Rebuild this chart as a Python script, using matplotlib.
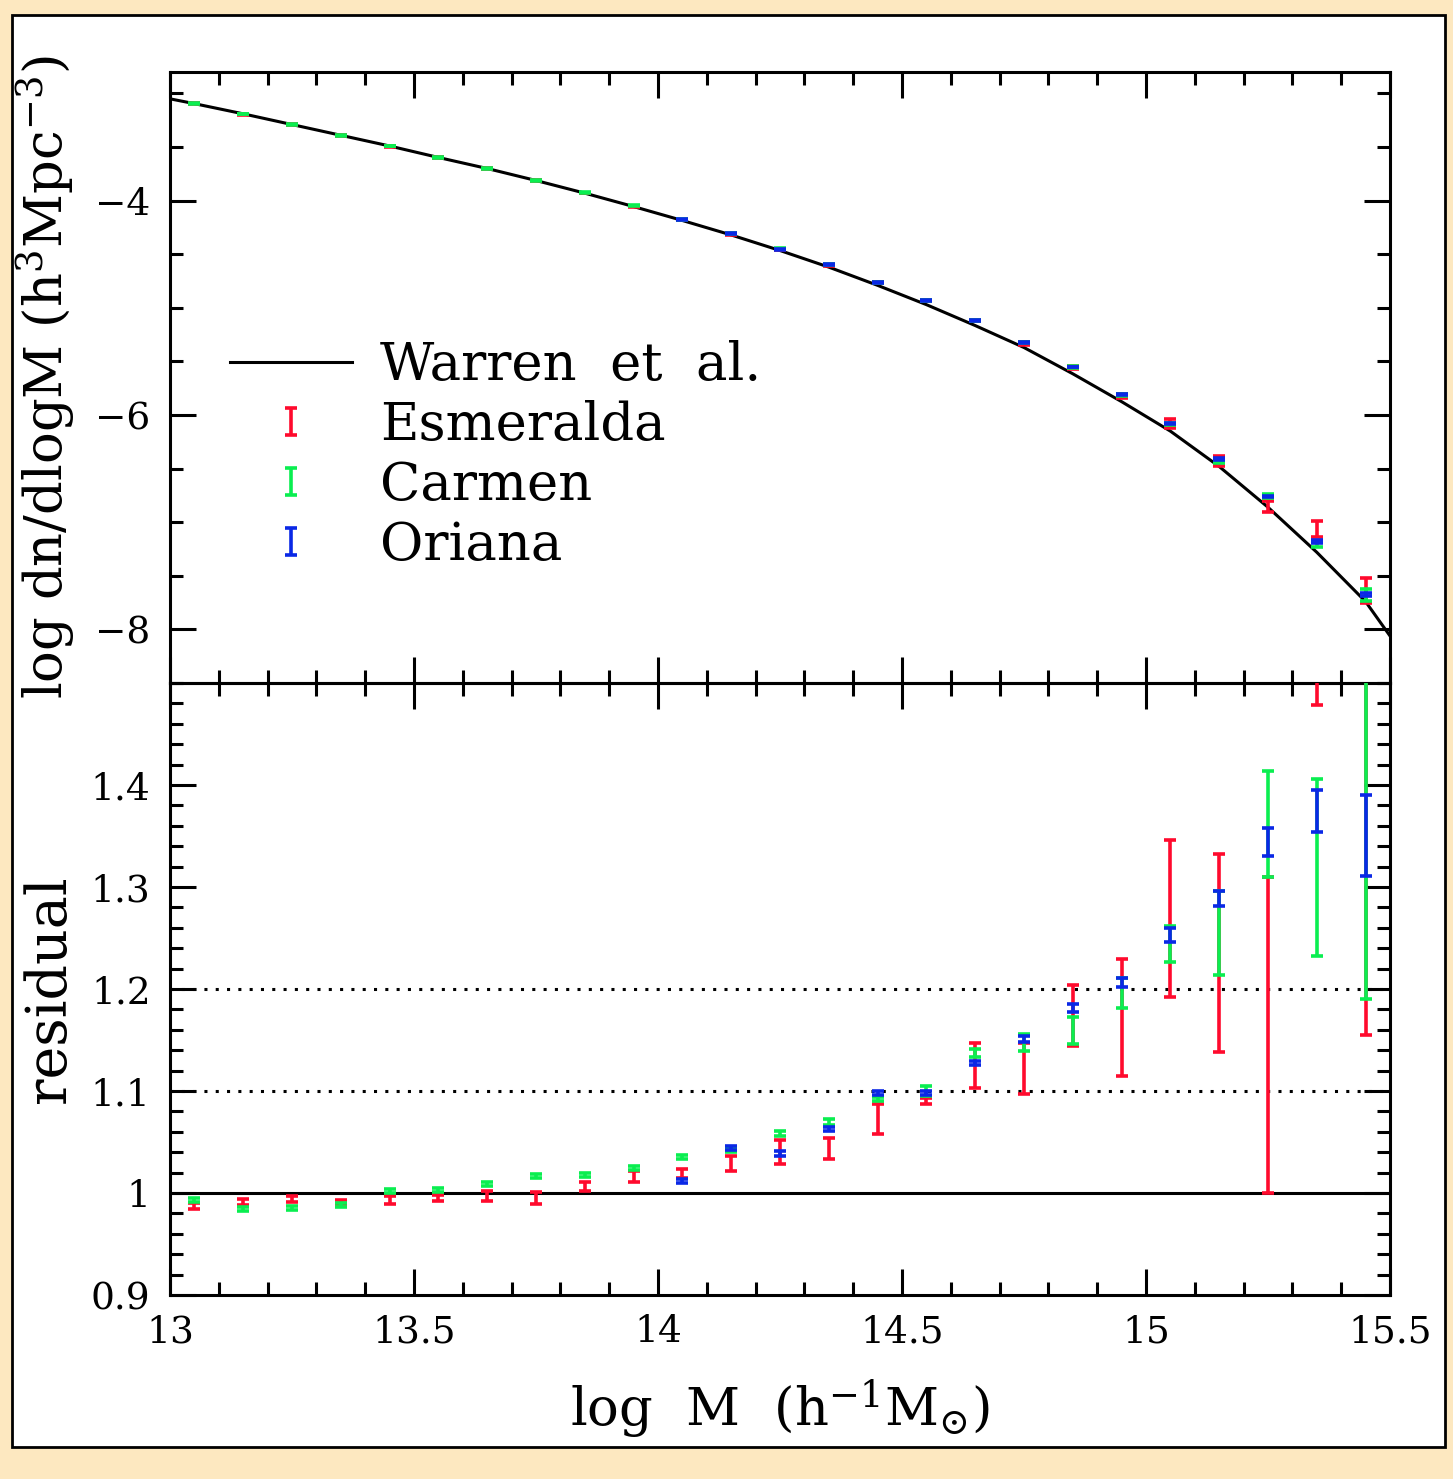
import numpy as np
import matplotlib
matplotlib.use("Agg", force=True)
import matplotlib.pyplot as plt
from matplotlib.ticker import MultipleLocator, FixedLocator
from matplotlib.patches import Rectangle
from matplotlib.container import ErrorbarContainer
from matplotlib.legend_handler import HandlerErrorbar

plt.rcParams['font.family'] = ['DejaVu Serif']
plt.rcParams['mathtext.fontset'] = 'dejavuserif'
plt.rcParams['axes.unicode_minus'] = True

# ---- data ----
mass_bins = [13.05, 13.15, 13.25, 13.35, 13.45, 13.55, 13.65, 13.75, 13.85, 13.95,
             14.05, 14.15, 14.25, 14.35, 14.45, 14.55, 14.65, 14.75, 14.85, 14.95,
             15.05, 15.15, 15.25, 15.35, 15.45]
oriana_bins = mass_bins[10:]

# Warren et al. fit
warren_x = [13.0, 13.05, 13.15, 13.25, 13.35, 13.45, 13.55, 13.65, 13.75, 13.85, 13.95,
            14.05, 14.15, 14.25, 14.35, 14.45, 14.55, 14.65, 14.75, 14.85, 14.95,
            15.05, 15.15, 15.25, 15.35, 15.45, 15.5]
warren_y = [-3.05, -3.095, -3.19, -3.29, -3.39, -3.49, -3.597, -3.70, -3.812, -3.93, -4.055,
            -4.185, -4.32, -4.465, -4.62, -4.79, -4.97, -5.165, -5.37, -5.615, -5.875,
            -6.15, -6.48, -6.86, -7.28, -7.74, -8.06]

# mass function, log dn/dlogM
esm_mf = [-3.097, -3.193, -3.292, -3.392, -3.493, -3.598, -3.702, -3.815, -3.928, -4.053,
          -4.180, -4.312, -4.457, -4.604, -4.765, -4.935, -5.118, -5.333, -5.555, -5.822,
          -6.080, -6.427, -6.853, -7.063, -7.635]
esm_mf_err = [0.004, 0.004, 0.004, 0.004, 0.004, 0.004, 0.004, 0.005, 0.004, 0.004,
              0.004, 0.005, 0.005, 0.006, 0.007, 0.004, 0.009, 0.011, 0.013, 0.02,
              0.04, 0.045, 0.047, 0.073, 0.117]
car_mf = [-3.094, -3.192, -3.292, -3.391, -3.490, -3.596, -3.698, -3.808, -3.925, -4.049,
          -4.174, -4.306, -4.450, -4.596, -4.760, -4.928, -5.114, -5.325, -5.553, -5.810,
          -6.080, -6.440, -6.755, -7.205, -7.680]
car_mf_err = [0.004, 0.004, 0.004, 0.004, 0.004, 0.004, 0.004, 0.004, 0.004, 0.004,
              0.004, 0.004, 0.004, 0.004, 0.004, 0.004, 0.005, 0.005, 0.006, 0.008,
              0.01, 0.01, 0.015, 0.025, 0.055]
ori_mf = [-4.177, -4.309, -4.452, -4.598, -4.761, -4.930, -5.116, -5.327, -5.552, -5.805,
          -6.077, -6.409, -6.760, -7.180, -7.674]
ori_mf_err = [0.004, 0.004, 0.004, 0.004, 0.004, 0.004, 0.004, 0.004, 0.004, 0.005,
              0.006, 0.007, 0.008, 0.01, 0.012]

# residuals
esm_res = [0.987, 0.991, 0.994, 0.991, 0.993, 0.995, 0.997, 0.995, 1.0065, 1.0165,
           1.0195, 1.029, 1.040, 1.0435, 1.0725, 1.090, 1.125, 1.122, 1.174, 1.172,
           1.269, 1.235, 1.155, 1.800, 1.400]
esm_res_err = [0.003, 0.003, 0.003, 0.002, 0.004, 0.003, 0.005, 0.006, 0.0045, 0.0055,
               0.0045, 0.007, 0.012, 0.0105, 0.0145, 0.003, 0.0225, 0.025, 0.030, 0.057,
               0.077, 0.097, 0.155, 0.322, 0.245]
car_res = [0.993, 0.984, 0.985, 0.988, 1.0016, 1.0026, 1.009, 1.0167, 1.018, 1.0246,
           1.035, 1.042, 1.0585, 1.0695, 1.092, 1.100, 1.137, 1.1475, 1.159, 1.196,
           1.244, 1.255, 1.362, 1.319, 1.380]
car_res_err = [0.002, 0.002, 0.002, 0.002, 0.002, 0.002, 0.002, 0.002, 0.002, 0.002,
               0.002, 0.002, 0.0022, 0.0028, 0.002, 0.005, 0.004, 0.0085, 0.0134, 0.0145,
               0.018, 0.041, 0.052, 0.087, 0.190]
ori_res = [1.0115, 1.044, 1.0387, 1.063, 1.0984, 1.0984, 1.1277, 1.151, 1.181, 1.2065,
           1.253, 1.2886, 1.344, 1.3745, 1.3505]
ori_res_err = [0.002, 0.002, 0.002, 0.002, 0.002, 0.002, 0.002, 0.0025, 0.004, 0.0045,
               0.0065, 0.0075, 0.0135, 0.0205, 0.0395]

RED = '#ff0a2d'
GREEN = '#0aee50'
BLUE = '#0a28e6'
LW = 2.2
ELW = 2.6

fig = plt.figure(figsize=(14.53, 14.79), dpi=100)
fig.patch.set_facecolor('#fde8c0')
fig.add_artist(Rectangle((12 / 1453, 1 - 1447 / 1479), 1433 / 1453, 1432 / 1479,
                         transform=fig.transFigure, facecolor='white',
                         edgecolor='black', lw=2, zorder=-10))

ax1 = fig.add_axes([0.1170, 0.5382, 0.8396, 0.4131])
ax2 = fig.add_axes([0.1170, 0.1244, 0.8396, 0.4138])


def style(ax):
    ax.set_facecolor('none')
    for s in ax.spines.values():
        s.set_linewidth(LW)
    ax.tick_params(which='both', direction='in', top=True, right=True, width=LW,
                   labelsize=27)
    ax.tick_params(which='major', length=18.7)
    ax.tick_params(which='minor', length=9.4)
    ax.set_xlim(13, 15.5)
    ax.xaxis.set_major_locator(MultipleLocator(0.5))
    ax.xaxis.set_minor_locator(MultipleLocator(0.1))


ebkw = dict(fmt='none', elinewidth=ELW, capsize=4.6, capthick=ELW)

# ---- top panel ----
style(ax1)
line, = ax1.plot(warren_x, warren_y, color='black', lw=LW, zorder=5)
e1 = ax1.errorbar(mass_bins, esm_mf, yerr=esm_mf_err, ecolor=RED, zorder=6, **ebkw)
e2 = ax1.errorbar(mass_bins, car_mf, yerr=car_mf_err, ecolor=GREEN, zorder=7, **ebkw)
e3 = ax1.errorbar(oriana_bins, ori_mf, yerr=ori_mf_err, ecolor=BLUE, zorder=8, **ebkw)
ax1.set_ylim(-8.5, -2.8)
ax1.yaxis.set_major_locator(FixedLocator([-4, -6, -8]))
ax1.yaxis.set_minor_locator(MultipleLocator(0.5))
ax1.tick_params(axis='x', labelbottom=False)
ax1.tick_params(axis='y', pad=14)
ax1.set_ylabel('log dn/dlogM (h$^{3}$Mpc$^{-3}$)', fontsize=38)
ax1.yaxis.set_label_coords(-0.076, 0.5)

leg = ax1.legend([line, e1, e2, e3],
                 ['Warren  et  al.', 'Esmeralda', 'Carmen', 'Oriana'],
                 loc='upper left', bbox_to_anchor=(230 / 1453, 1 - 340 / 1479),
                 bbox_transform=fig.transFigure, frameon=False, fontsize=38,
                 borderpad=0, borderaxespad=0, handlelength=2.31,
                 handletextpad=0.53, labelspacing=0.17,
                 handler_map={ErrorbarContainer: HandlerErrorbar(yerr_size=0.25)})

# ---- residual panel ----
style(ax2)
ax2.axhline(1.0, color='black', lw=LW, zorder=3)
for lev in (1.1, 1.2):
    ax2.axhline(lev, color='black', lw=LW, ls=(0, (1, 2.7)), zorder=3)
ax2.errorbar(mass_bins, esm_res, yerr=esm_res_err, ecolor=RED, zorder=6, **ebkw)
ax2.errorbar(mass_bins, car_res, yerr=car_res_err, ecolor=GREEN, zorder=7, **ebkw)
ax2.errorbar(oriana_bins, ori_res, yerr=ori_res_err, ecolor=BLUE, zorder=8, **ebkw)
ax2.set_ylim(0.9, 1.5)
ax2.set_yticks([0.9, 1.0, 1.1, 1.2, 1.3, 1.4], labels=['0.9', '1', '1.1', '1.2', '1.3', '1.4'])
ax2.yaxis.set_minor_locator(MultipleLocator(0.02))
ax2.set_xticks([13, 13.5, 14, 14.5, 15, 15.5], labels=['13', '13.5', '14', '14.5', '15', '15.5'])
ax2.tick_params(axis='y', pad=14)
ax2.tick_params(axis='x', pad=14)
ax2.set_ylabel('residual', fontsize=40)
ax2.yaxis.set_label_coords(-0.076, 0.5)
ax2.set_xlabel(r'log  M  (h$^{-1}$M$_{\odot}$)', fontsize=38)
ax2.xaxis.set_label_coords(0.5, -0.135)

fig.savefig('out.png', dpi=100, facecolor=fig.get_facecolor())
